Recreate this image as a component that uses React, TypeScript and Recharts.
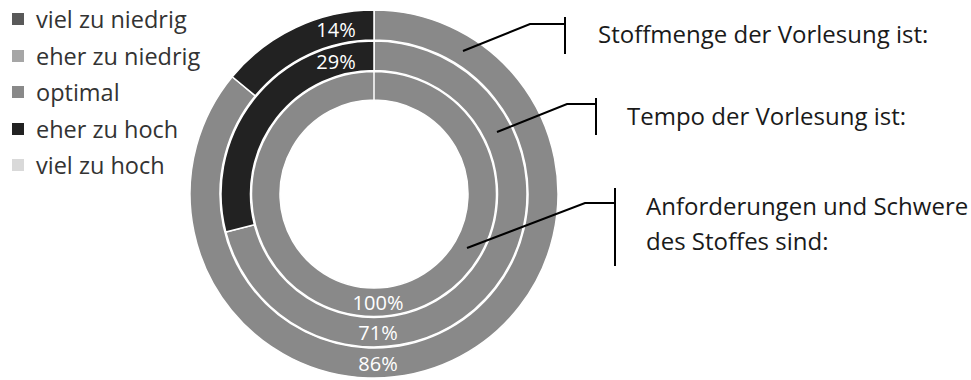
import { PieChart, Pie, Cell } from "recharts"

const CATEGORIES = ['viel zu niedrig', 'eher zu niedrig', 'optimal', 'eher zu hoch', 'viel zu hoch']
const COLORS = ['#595959', '#a6a6a6', '#898989', '#222222', '#d9d9d9']

// share of answers (%) per question, in CATEGORIES order
const STOFFMENGE = [0, 0, 86, 14, 0]
const TEMPO = [0, 0, 71, 29, 0]
const ANFORDERUNGEN = [0, 0, 100, 0, 0]

const QUESTIONS = [
  ['Stoffmenge der Vorlesung ist:'],
  ['Tempo der Vorlesung ist:'],
  ['Anforderungen und Schwere', 'des Stoffes sind:'],
]

const FONT = "'Open Sans', sans-serif"
const CX = 374
const CY = 194

const toData = (values: number[]) =>
  CATEGORIES.map((name, i) => ({ name, value: values[i], color: COLORS[i] })).filter((d) => d.value > 0)

const rings = [
  { data: toData(ANFORDERUNGEN), inner: 94, outer: 122.5 },
  { data: toData(TEMPO), inner: 123.5, outer: 153 },
  { data: toData(STOFFMENGE), inner: 154, outer: 184 },
]

const renderLabel = (props: any) => {
  const { value, name, innerRadius, outerRadius } = props
  const cx = props.cx ?? CX
  const cy = props.cy ?? CY
  const rm = (innerRadius + outerRadius) / 2
  let x = cx + 4
  let y = cy + rm
  if (name !== 'optimal') {
    x = cx - 38
    y = cy - Math.sqrt(rm * rm - 38 * 38)
  }
  return (
    <text x={x} y={y} fill="#fff" textAnchor="middle" dominantBaseline="central" fontSize={20} fontFamily={FONT}>
      {value}%
    </text>
  )
}

// callout lines: [start in ring, elbow, end], bracket [x, y1, y2], text position
const CALLOUTS = [
  { pts: '463,51 530,24 565,24', bar: [565, 17, 54], tx: 598, ty: 33 },
  { pts: '497,132 567,104 596,104', bar: [596, 98, 135], tx: 627, ty: 115 },
  { pts: '467,248 585,203 615,203', bar: [615, 188, 266], tx: 646, ty: 205 },
]

const Callouts = () => (
  <svg width={971} height={380} style={{ position: 'absolute', left: 0, top: 0, pointerEvents: 'none' }}>
    {CALLOUTS.map((c, i) => (
      <g key={i}>
        <polyline points={c.pts} fill="none" stroke="#000" strokeWidth={2} />
        <line x1={c.bar[0]} x2={c.bar[0]} y1={c.bar[1]} y2={c.bar[2]} stroke="#000" strokeWidth={2} />
        {QUESTIONS[i].map((t, j) => (
          <text key={j} x={c.tx} y={c.ty + j * 35} dominantBaseline="central" fontSize={24} fill="#1a1a1a" fontFamily={FONT}>
            {t}
          </text>
        ))}
      </g>
    ))}
  </svg>
)

const LegendBox = () => (
  <div style={{ position: 'absolute', left: 0, top: 1, fontFamily: FONT, fontSize: 23.5, color: '#333' }}>
    {CATEGORIES.map((c, i) => (
      <div key={c} style={{ height: 36.5, display: 'flex', alignItems: 'center', whiteSpace: 'nowrap' }}>
        <span style={{ width: 12, height: 12, background: COLORS[i], marginLeft: 12, marginRight: 12, display: 'inline-block' }} />
        <span>{c}</span>
      </div>
    ))}
  </div>
)

export default function App() {
  return (
    <div style={{ position: 'absolute', left: 0, top: 0, width: 971, height: 380, background: '#fff' }}>
      <PieChart width={971} height={380} margin={{ top: 0, right: 0, bottom: 0, left: 0 }} style={{ fontFamily: FONT }}>
        {rings.map((r, i) => (
          <Pie
            key={i}
            data={r.data}
            dataKey="value"
            nameKey="name"
            cx={CX}
            cy={CY}
            innerRadius={r.inner}
            outerRadius={r.outer}
            startAngle={90}
            endAngle={-270}
            stroke="#fff"
            strokeWidth={1.5}
            label={renderLabel}
            labelLine={false}
            isAnimationActive={false}
          >
            {r.data.map((d) => (
              <Cell key={d.name} fill={d.color} />
            ))}
          </Pie>
        ))}
      </PieChart>
      <Callouts />
      <LegendBox />
    </div>
  )
}
